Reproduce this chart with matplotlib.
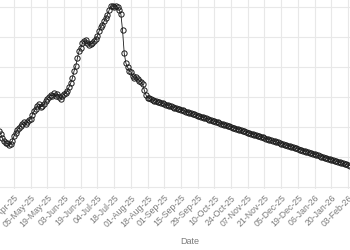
import matplotlib.pyplot as plt
import numpy as np

plt.rcParams["font.family"] = ["Liberation Sans", "DejaVu Sans"]

# observed series (one point per trading day), left edge of the picture onwards
history = [
    58.5, 57.67, 56.33, 55.33, 54.67, 54.67, 54.0, 54.33, 55.33, 57.0, 58.0,
    59.0, 59.67, 60.33, 61.0, 61.67, 61.0, 61.67, 62.33, 62.67, 64.0,
    65.33, 66.0, 67.0, 67.67, 66.67, 67.0, 67.67, 68.67, 69.33, 70.0,
    70.67, 70.33, 71.33, 70.33, 71.0, 70.0, 69.33, 70.33, 71.0, 71.33,
    72.0, 73.33, 74.67, 76.33, 78.67, 80.33, 83.0, 85.33, 86.33, 88.0,
    88.67, 89.0, 88.0, 87.33, 87.67, 88.0, 88.67, 89.33, 90.33, 92.0,
    93.33, 94.0, 95.33, 96.33, 97.33, 99.0, 100.33, 100.33, 100.0, 100.33,
    100.0, 99.0, 97.67, 92.33, 84.67, 81.33, 80.0, 78.67, 78.33, 77.0,
    76.33, 76.67, 76.0, 75.33, 75.0, 74.33, 72.33,
]

# projected continuation
forecast = [
    70.67, 69.83, 69.5, 69.23,
    69.00, 68.81, 68.61, 68.42, 68.22, 68.03, 67.84, 67.64, 67.45, 67.25,
    67.06, 66.87, 66.67, 66.48, 66.29, 66.10, 65.90, 65.71, 65.52, 65.32,
    65.13, 64.94, 64.75, 64.56, 64.37, 64.18, 63.98, 63.79, 63.60, 63.41,
    63.22, 63.03, 62.84, 62.65, 62.46, 62.28, 62.09, 61.90, 61.71, 61.52,
    61.33, 61.14, 60.96, 60.77, 60.58, 60.40, 60.21, 60.02, 59.83, 59.65,
    59.46, 59.27, 59.09, 58.90, 58.72, 58.53, 58.34, 58.16, 57.97, 57.79,
    57.60, 57.42, 57.23, 57.05, 56.86, 56.68, 56.50, 56.31, 56.13, 55.94,
    55.76, 55.58, 55.40, 55.21, 55.03, 54.85, 54.67, 54.49, 54.30, 54.12,
    53.94, 53.76, 53.58, 53.40, 53.22, 53.04, 52.85, 52.67, 52.49, 52.31,
    52.13, 51.95, 51.77, 51.59, 51.41, 51.24, 51.06, 50.88, 50.70, 50.52,
    50.34, 50.16, 49.99, 49.81, 49.63, 49.46, 49.28, 49.10, 48.93, 48.75,
    48.57, 48.39, 48.22, 48.04, 47.87, 47.69, 47.51, 47.34, 47.16,
]

tick_labels = [
    "21-Apr-25", "05-May-25", "19-May-25", "03-Jun-25", "19-Jun-25",
    "04-Jul-25", "18-Jul-25", "01-Aug-25", "18-Aug-25", "01-Sep-25",
    "15-Sep-25", "29-Sep-25", "10-Oct-25", "24-Oct-25", "07-Nov-25",
    "21-Nov-25", "05-Dec-25", "19-Dec-25", "06-Jan-26", "20-Jan-26",
    "03-Feb-26", "18-Feb-26",
]
first_tick = 9
tick_step = 10
y_grid = [40, 50, 60, 70, 80, 90, 100]

values = np.array(history + forecast)
x = np.arange(len(values))

fig = plt.figure(figsize=(3.5, 2.5), dpi=100)
# the visible region is a crop of a larger panel: it runs off the left and top edges
ax = fig.add_axes([0.0, 61 / 250, 1.0, 189 / 250])

ax.plot(x, values, color="#1a1a1a", lw=0.6, marker="o", ms=3.8,
        mfc="none", mec="#1a1a1a", mew=0.7, zorder=3)

ticks = [first_tick + tick_step * k for k in range(len(tick_labels))]
ax.set_xticks(ticks)
ax.set_xticklabels(tick_labels, rotation=45, ha="right", va="top",
                   rotation_mode="anchor", fontsize=6.3, color="#7a7a7a")
ax.set_yticks(y_grid)
ax.set_yticklabels([])
ax.tick_params(length=0, pad=3)

ax.set_xlim(0.64, 210.2)
ax.set_ylim(39.33, 102.33)
ax.grid(True, color="#e8e8e8", lw=0.8)
ax.set_axisbelow(True)
for s in ax.spines.values():
    s.set_visible(False)

ax.set_xlabel("Date", fontsize=6.5, color="#7a7a7a")
ax.xaxis.set_label_coords(190 / 350, -0.28)
ax.xaxis.label.set_va("center")

fig.savefig("out.png", dpi=100, facecolor="white")
